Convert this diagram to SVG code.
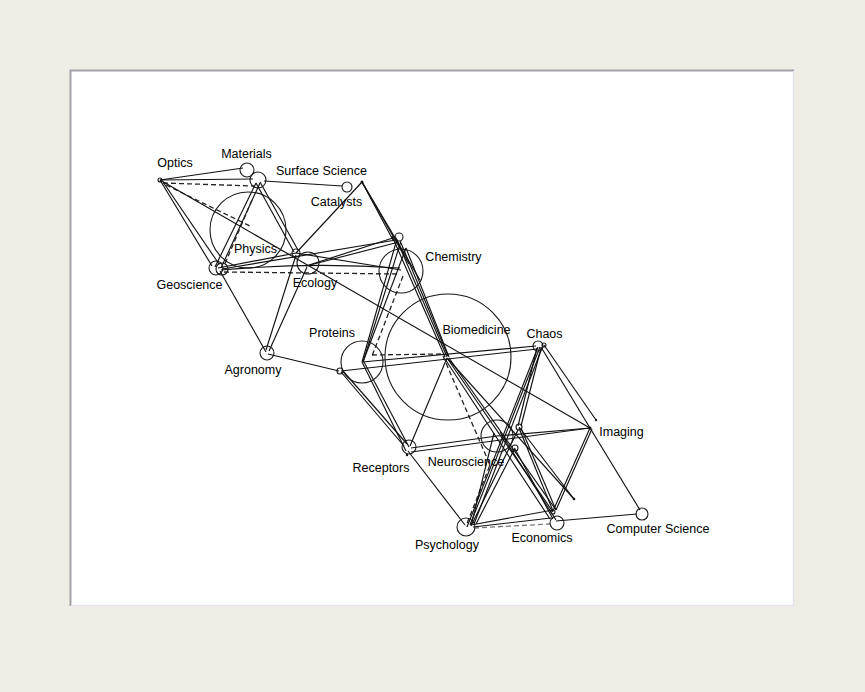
<svg xmlns="http://www.w3.org/2000/svg" width="865" height="692" viewBox="0 0 865 692">
<defs>
<style>
.n{fill:none;stroke:#1a1a1a;stroke-width:1.1}
.d{fill:#111;stroke:none}
.e{fill:none;stroke:#111;stroke-width:1.15}
.dash{fill:none;stroke:#222;stroke-width:1.3;stroke-dasharray:5 3}
.t{font-family:"Liberation Sans",Arial,sans-serif;font-size:12.5px;fill:#000;text-anchor:middle}
</style>
</defs>
<rect x="0" y="0" width="865" height="692" fill="#f0ece6"/>
<rect x="70" y="70" width="724" height="536" fill="#ffffff"/>
<path d="M70.5 606 V70.5 H794" fill="none" stroke="#a3a1a6" stroke-width="2"/>
<path d="M71 605.5 H793.5 V71" fill="none" stroke="#e4e2ec" stroke-width="1.5"/>

<g id="connectors">
<line class="e" x1="160" y1="180" x2="243" y2="168"/>
<line class="e" x1="160" y1="180" x2="253" y2="179"/>
<line class="dash" x1="163" y1="183" x2="254" y2="186"/>
<line class="e" x1="160" y1="180" x2="212" y2="266"/>
<line class="e" x1="163" y1="182" x2="219" y2="264"/>
<line class="dash" x1="166" y1="185" x2="250" y2="226"/>
<line class="e" x1="160" y1="180" x2="590" y2="428"/>
<line class="e" x1="264" y1="181" x2="342" y2="186"/>
<line class="e" x1="256" y1="183" x2="215" y2="267"/>
<line class="e" x1="260" y1="183" x2="221" y2="268"/>
<line class="dash" x1="252" y1="200" x2="224" y2="266"/>
<line class="e" x1="256" y1="183" x2="294" y2="252"/>
<line class="e" x1="260" y1="182" x2="298" y2="250"/>
<line class="e" x1="362" y1="182" x2="296" y2="253"/>
<line class="e" x1="362" y1="182" x2="393" y2="240"/>
<line class="e" x1="362" y1="182" x2="420" y2="280"/>
<line class="e" x1="362" y1="182" x2="409" y2="264"/>
<line class="e" x1="218" y1="268" x2="296" y2="253"/>
<line class="e" x1="222" y1="269" x2="396" y2="240"/>
<path class="e" d="M221 270 Q310 262 400 268"/>
<line class="dash" x1="224" y1="272" x2="399" y2="274"/>
<line class="e" x1="306" y1="266" x2="396" y2="237"/>
<line class="e" x1="310" y1="265" x2="399" y2="242"/>
<line class="e" x1="296" y1="253" x2="401" y2="270"/>
<line class="e" x1="220" y1="271" x2="266" y2="352"/>
<line class="e" x1="296" y1="255" x2="266" y2="350"/>
<line class="e" x1="307" y1="267" x2="269" y2="351"/>
<line class="e" x1="268" y1="354" x2="339" y2="371"/>
<line class="e" x1="397" y1="239" x2="362" y2="362"/>
<line class="e" x1="401" y1="241" x2="363" y2="362"/>
<line class="e" x1="406" y1="248" x2="363" y2="362"/>
<line class="dash" x1="403" y1="276" x2="372" y2="356"/>
<line class="e" x1="392" y1="236" x2="445" y2="357"/>
<line class="e" x1="396" y1="238" x2="447" y2="357"/>
<line class="e" x1="401" y1="243" x2="448" y2="356"/>
<line class="e" x1="406" y1="248" x2="449" y2="357"/>
<line class="dash" x1="372" y1="355" x2="442" y2="354"/>
<line class="e" x1="362" y1="362" x2="536" y2="346"/>
<line class="e" x1="341" y1="371" x2="537" y2="349"/>
<line class="e" x1="362" y1="362" x2="406" y2="451"/>
<line class="e" x1="364" y1="362" x2="409" y2="447"/>
<line class="e" x1="341" y1="372" x2="404" y2="446"/>
<line class="e" x1="343" y1="371" x2="407" y2="444"/>
<line class="e" x1="447" y1="358" x2="410" y2="446"/>
<line class="e" x1="411" y1="448" x2="497" y2="436"/>
<line class="e" x1="411" y1="452" x2="590" y2="428"/>
<line class="e" x1="408" y1="451" x2="465" y2="525"/>
<line class="e" x1="447" y1="358" x2="553" y2="512"/>
<line class="e" x1="449" y1="358" x2="556" y2="510"/>
<line class="e" x1="445" y1="359" x2="550" y2="519"/>
<line class="e" x1="448" y1="359" x2="574" y2="499"/>
<polyline class="dash" points="443,356 490,465 466,526"/>
<line class="e" x1="494" y1="433" x2="471" y2="526"/>
<line class="e" x1="538" y1="347" x2="467" y2="527"/>
<line class="e" x1="540" y1="347" x2="470" y2="525"/>
<line class="e" x1="542" y1="348" x2="474" y2="524"/>
<line class="e" x1="537" y1="348" x2="518" y2="426"/>
<line class="e" x1="541" y1="348" x2="521" y2="426"/>
<line class="e" x1="544" y1="345" x2="596" y2="420"/>
<line class="e" x1="541" y1="347" x2="590" y2="428"/>
<line class="e" x1="590" y1="428" x2="640" y2="510"/>
<line class="e" x1="590" y1="428" x2="553" y2="511"/>
<line class="e" x1="592" y1="429" x2="556" y2="510"/>
<line class="e" x1="556" y1="521" x2="637" y2="514"/>
<line class="e" x1="471" y1="525" x2="553" y2="510"/>
<line class="e" x1="473" y1="527" x2="551" y2="518"/>
<line class="dash" x1="474" y1="528" x2="550" y2="524" style="stroke:#777"/>
<line class="e" x1="497" y1="436" x2="590" y2="428"/>
<line class="e" x1="519" y1="428" x2="553" y2="511"/>
<line class="e" x1="521" y1="428" x2="556" y2="510"/>
<line class="e" x1="515" y1="449" x2="553" y2="519"/>
<line class="e" x1="500" y1="432" x2="556" y2="520"/>
<line class="e" x1="519" y1="427" x2="574" y2="499"/>
<line class="e" x1="472" y1="524" x2="518" y2="430"/>
<line class="e" x1="476" y1="524" x2="515" y2="448"/>
</g>

<g id="node-optics"><circle class="n" cx="160" cy="180" r="2"/><text class="t" x="175" y="167">Optics</text></g>
<g id="node-materials"><circle class="n" cx="247" cy="170" r="7"/><circle class="n" cx="258" cy="180" r="8"/><text class="t" x="246.5" y="158">Materials</text></g>
<g id="node-surface-science"><circle class="n" cx="347" cy="187" r="5"/><text class="t" x="321.5" y="175">Surface Science</text></g>
<g id="node-catalysts"><circle class="d" cx="362" cy="182" r="1.5"/><text class="t" x="336.5" y="206">Catalysts</text></g>
<g id="node-physics"><circle class="n" cx="248" cy="230" r="38"/><text class="t" x="255.5" y="253">Physics</text></g>
<g id="node-geoscience"><circle class="n" cx="216" cy="268" r="7"/><circle class="n" cx="222" cy="269" r="6"/><text class="t" x="189.5" y="288.5">Geoscience</text></g>
<g id="node-hub"><circle class="n" cx="296" cy="253" r="4"/></g>
<g id="node-ecology"><circle class="n" cx="308" cy="263" r="11"/><text class="t" x="315" y="286.5">Ecology</text></g>
<g id="node-chemistry"><circle class="n" cx="401" cy="271" r="22"/><circle class="n" cx="399" cy="237" r="4"/><text class="t" x="453.5" y="261">Chemistry</text></g>
<g id="node-biomedicine"><circle class="n" cx="448" cy="357" r="63"/><text class="t" x="476.5" y="334">Biomedicine</text></g>
<g id="node-proteins"><circle class="n" cx="362" cy="362" r="21"/><circle class="n" cx="340" cy="371" r="3"/><text class="t" x="332" y="336.5">Proteins</text></g>
<g id="node-agronomy"><circle class="n" cx="267" cy="353" r="7"/><text class="t" x="253" y="374">Agronomy</text></g>
<g id="node-chaos"><circle class="n" cx="538" cy="346" r="5"/><circle class="n" cx="544" cy="345" r="2"/><text class="t" x="544.5" y="338">Chaos</text></g>
<g id="node-imaging"><circle class="d" cx="590" cy="428" r="1.6"/><circle class="d" cx="596" cy="420" r="1.2"/><text class="t" x="621.5" y="436">Imaging</text></g>
<g id="node-neuroscience"><circle class="n" cx="497" cy="436" r="16"/><circle class="n" cx="519" cy="427" r="3"/><circle class="n" cx="515" cy="448" r="3"/><text class="t" x="466" y="466">Neuroscience</text></g>
<g id="node-receptors"><circle class="n" cx="409" cy="447" r="7"/><circle class="d" cx="407" cy="455" r="1.2"/><text class="t" x="381" y="472">Receptors</text></g>
<g id="node-psychology"><circle class="n" cx="466" cy="527" r="9"/><text class="t" x="447" y="549">Psychology</text></g>
<g id="node-economics"><circle class="n" cx="557" cy="523" r="7"/><circle class="n" cx="553" cy="512" r="2"/><circle class="d" cx="574" cy="499" r="1.3"/><text class="t" x="542" y="542">Economics</text></g>
<g id="node-computer-science"><circle class="n" cx="642" cy="514" r="6"/><text class="t" x="658" y="533">Computer Science</text></g>
</svg>
